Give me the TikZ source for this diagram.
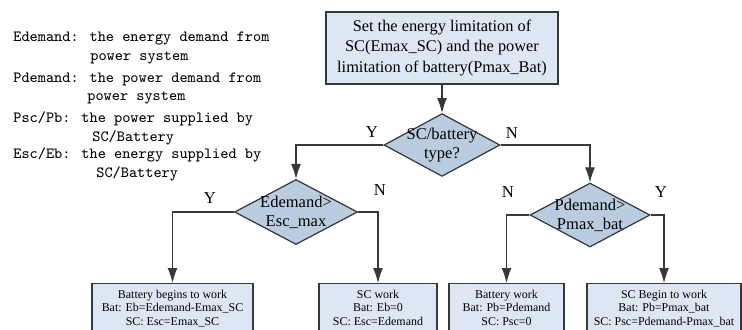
\documentclass[tikz,border=0pt]{standalone}
\usepackage{fontspec}
\setmainfont{Liberation Serif}
\usetikzlibrary{arrows.meta,positioning,shapes.geometric}
\definecolor{flowBoxBlue}{RGB}{221,231,243}
\definecolor{flowDiamondBlue}{RGB}{186,205,224}
\colorlet{flowLine}{black!78}
\tikzset{
  >=Latex,
  % boxes for settings and the four work modes
  setbox/.style={
    rectangle,
    fill=flowBoxBlue,
    draw=flowLine,
    line width=0.7pt,
    inner sep=0pt,
    align=center,
    font=\fontsize{9.3}{11.9}\selectfont
  },
  modebox/.style={
    rectangle,
    fill=flowBoxBlue,
    draw=flowLine,
    line width=0.7pt,
    anchor=north,
    inner xsep=0pt,
    inner ysep=3.6pt,
    align=center,
    font=\fontsize{6.8}{7.7}\selectfont
  },
  decision/.style={
    diamond,
    fill=flowDiamondBlue,
    draw=flowLine,
    line width=0.7pt,
    inner sep=-6pt,
    align=center,
    font=\fontsize{9.4}{11}\selectfont
  },
  yn/.style={
    font=\fontsize{9.5}{11}\selectfont
  },
  legend/.style={
    anchor=west,
    inner sep=0pt,
    font=\ttfamily\fontsize{8.86}{10}\selectfont
  },
  arrow/.style={
    -{Latex[length=8.5pt,width=5.6pt]},
    line width=0.6pt,
    draw=flowLine
  }
}
\begin{document}
\begin{tikzpicture}[x=0.02cm,y=-0.02cm]
\useasboundingbox (0,0) rectangle (742,329);

% variable legend
\node[legend] (leg1) at (13,38) {Edemand: the energy demand from};
\node[legend] (leg1b) at (90,58) {power system};
\node[legend] (leg2) at (13,79) {Pdemand: the power demand from};
\node[legend] (leg2b) at (87,98) {power system};
\node[legend] (leg3) at (13,119) {Psc/Pb: the power supplied by};
\node[legend] (leg3b) at (92,138) {SC/Battery};
\node[legend] (leg4) at (13,155) {Esc/Eb: the energy supplied by};
\node[legend] (leg4b) at (96,174) {SC/Battery};

% limits and decisions
\node[setbox, minimum width=4.64cm, minimum height=1.44cm] (limits) at (442,48)
{Set the energy limitation of\\SC(Emax\_SC) and the power\\limitation of battery(Pmax\_Bat)};
\node[decision, minimum width=2.32cm, minimum height=1.22cm] (type) at (442,145)
{SC/battery\\type?};
\node[decision, minimum width=2.46cm, minimum height=1.3cm] (edem) at (296,212)
{Edemand>\\Esc\_max};
\node[decision, minimum width=2.4cm, minimum height=1.28cm] (pdem) at (590,215)
{Pdemand>\\Pmax\_bat};

% work modes
\node[modebox, minimum width=3.22cm] (batmain) at (172.5,283)
{Battery begins to work\\Bat: Eb=Edemand-Emax\_SC\\SC: Esc=Emax\_SC};
\node[modebox, minimum width=2.36cm] (sconly) at (378,283)
{SC work\\Bat: Eb=0\\SC: Esc=Edemand};
\node[modebox, minimum width=2.3cm] (batonly) at (506.5,283)
{Battery work\\Bat: Pb=Pdemand\\SC: Psc=0};
\node[modebox, minimum width=3.08cm] (scmain) at (664,283)
{SC Begin to work\\Bat: Pb=Pmax\_bat\\SC: Psc=Pdemand-Pmax\_bat};

\draw[arrow] (limits.south) -- (type.north);
\draw[arrow] (type.west) -| (edem.north);
\draw[arrow] (type.east) -| (pdem.north);
\draw[arrow] (edem.west) -| (batmain.north);
\draw[arrow] (edem.east) -| (sconly.north);
\draw[arrow] (pdem.west) -| (batonly.north);
\draw[arrow] (pdem.east) -| (scmain.north);

\node[yn] (typeY) at (372,132) {Y};
\node[yn] (typeN) at (512,133) {N};
\node[yn] (edemY) at (210,198) {Y};
\node[yn] (edemN) at (380,190) {N};
\node[yn] (pdemN) at (508,192) {N};
\node[yn] (pdemY) at (661,192) {Y};

\end{tikzpicture}
\end{document}
